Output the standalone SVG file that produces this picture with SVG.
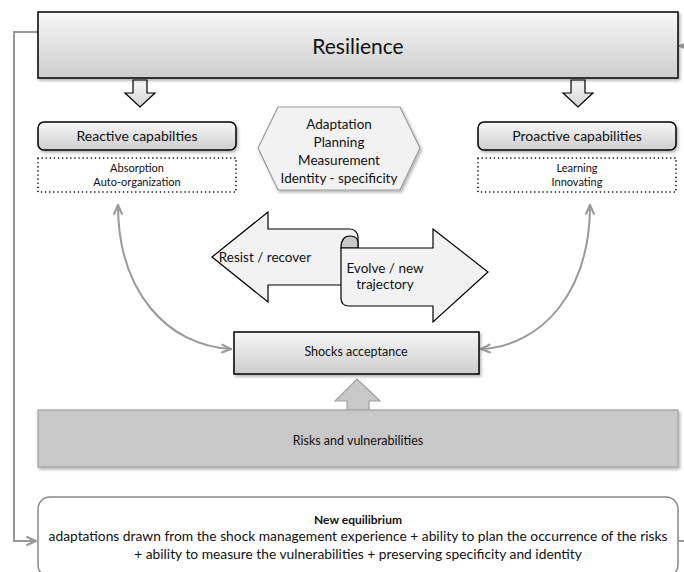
<svg xmlns="http://www.w3.org/2000/svg" width="684" height="572" viewBox="0 0 684 572">
<defs>
<linearGradient id="gBox" x1="0" y1="0" x2="0" y2="1"><stop offset="0" stop-color="#f7f7f7"/><stop offset="1" stop-color="#cdcdcd"/></linearGradient>
<linearGradient id="gArr" x1="0" y1="0" x2="0" y2="1"><stop offset="0" stop-color="#f7f7f7"/><stop offset="1" stop-color="#d4d4d4"/></linearGradient>
<filter id="sh" x="-5%" y="-10%" width="110%" height="130%"><feDropShadow dx="1.5" dy="2" stdDeviation="1.5" flood-color="#000" flood-opacity="0.3"/></filter>
<marker id="ah2" viewBox="0 0 10 10" refX="9" refY="5" markerWidth="12" markerHeight="12" orient="auto-start-reverse" markerUnits="userSpaceOnUse"><path d="M1,1.5 L9,5 L1,8.5" fill="none" stroke="#999" stroke-width="1.8"/></marker>
</defs>
<style>
text{font-family:Lato,"Liberation Sans",sans-serif;fill:#111;text-anchor:middle}
.box{fill:url(#gBox);stroke:#000;stroke-width:1.5}
.dot{fill:#fff;stroke:#000;stroke-width:1.6;stroke-dasharray:0.1 4;stroke-linecap:round}
.blk{fill:url(#gArr);stroke:#000;stroke-width:1.2}
.conn{fill:none;stroke:#999;stroke-width:2}
.t14{font-size:14px}
.t10{font-size:11px}
.t13{font-size:13.5px}
</style>

<g id="connectors">
<path class="conn" d="M38,32 L14,32 L14,541 L36,541" marker-end="url(#ah2)"/>
<path class="conn" d="M684,46 L680,46" marker-end="url(#ah2)"/>
<path class="conn" d="M678,541 L684,541"/>
<path class="conn" d="M118,205 C118,292 168,346 231,349" marker-start="url(#ah2)" marker-end="url(#ah2)"/>
<path class="conn" d="M590,205 C590,292 542,346 481,349" marker-start="url(#ah2)" marker-end="url(#ah2)"/>
<path class="blk" d="M133,80 L147,80 L147,93 L155,93 L140,107 L125,93 L133,93 Z"/>
<path class="blk" d="M571,80 L585,80 L585,93 L593,93 L578,107 L563,93 L571,93 Z"/>
<path d="M347,410 L347,401 L335,401 L357,379 L380,401 L369,401 L369,410" fill="#c8c8c8" stroke="#a0a0a0" stroke-width="1.2"/>
</g>

<g id="resilience">
<rect x="38" y="12" width="640" height="66" class="box" filter="url(#sh)"/>
<text x="358" y="54" style="font-size:21px">Resilience</text>
</g>

<g id="reactive">
<rect x="38" y="122" width="198" height="28" rx="6" class="box" filter="url(#sh)"/>
<text x="137" y="141" class="t14">Reactive capabilties</text>
</g>
<g id="reactive-details">
<rect x="38" y="158" width="198" height="34" class="dot"/>
<text x="137" y="172" class="t10">Absorption</text>
<text x="137" y="186" class="t10">Auto-organization</text>
</g>

<g id="proactive">
<rect x="478" y="122" width="198" height="28" rx="6" class="box" filter="url(#sh)"/>
<text x="577" y="141" class="t14">Proactive capabilities</text>
</g>
<g id="proactive-details">
<rect x="478" y="158" width="198" height="34" class="dot"/>
<text x="577" y="172" class="t10">Learning</text>
<text x="577" y="186" class="t10">Innovating</text>
</g>

<g id="hexagon">
<path d="M278,107 L400,107 L420,148 L400,190 L278,190 L258,148 Z" fill="#f2f2f2" stroke="#999" stroke-width="1.2" filter="url(#sh)"/>
<text x="339" y="129" class="t13">Adaptation</text>
<text x="339" y="147" class="t13">Planning</text>
<text x="339" y="165" class="t13">Measurement</text>
<text x="339" y="183" class="t13">Identity - specificity</text>
</g>

<g id="double-arrow">
<path d="M212,257 L268,212 L268,229 L350,229 A8,8 0 0 1 358,237 L358,285 L268,285 L268,302 Z" fill="#f2f2f2" stroke="#000" stroke-width="1.2"/>
<path d="M341,248 Q341,236 350,236 Q358,236 358,243 L358,248 Z" fill="#c8c8c8" stroke="#000" stroke-width="1.2"/>
<path d="M341,248 L433,248 L433,229 L488,272 L433,322 L433,306 L349,306 Q341,306 341,298 Z" fill="#f2f2f2" stroke="#000" stroke-width="1.2"/>
<text x="265" y="262" class="t13">Resist / recover</text>
<text x="385" y="273" class="t13">Evolve / new</text>
<text x="385" y="289" class="t13">trajectory</text>
</g>

<g id="shocks">
<rect x="234" y="332" width="245" height="42" class="box" filter="url(#sh)"/>
<text x="356" y="356" style="font-size:12.5px">Shocks acceptance</text>
</g>

<g id="risks">
<rect x="38" y="410" width="640" height="57" fill="#c8c8c8" stroke="#a0a0a0" stroke-width="1.2" filter="url(#sh)"/>
<text x="358" y="445" style="font-size:12.5px">Risks and vulnerabilities</text>
</g>

<g id="equilibrium">
<rect x="38" y="497" width="640" height="80" rx="12" fill="#fff" stroke="#888" stroke-width="1.5"/>
<text x="358" y="524" style="font-size:12px;font-weight:bold">New equilibrium</text>
<text x="358" y="541" style="font-size:13.8px">adaptations drawn from the shock management experience + ability to plan the occurrence of the risks</text>
<text x="358" y="559" style="font-size:13.8px">+ ability to measure the vulnerabilities + preserving specificity and identity</text>
</g>
</svg>
